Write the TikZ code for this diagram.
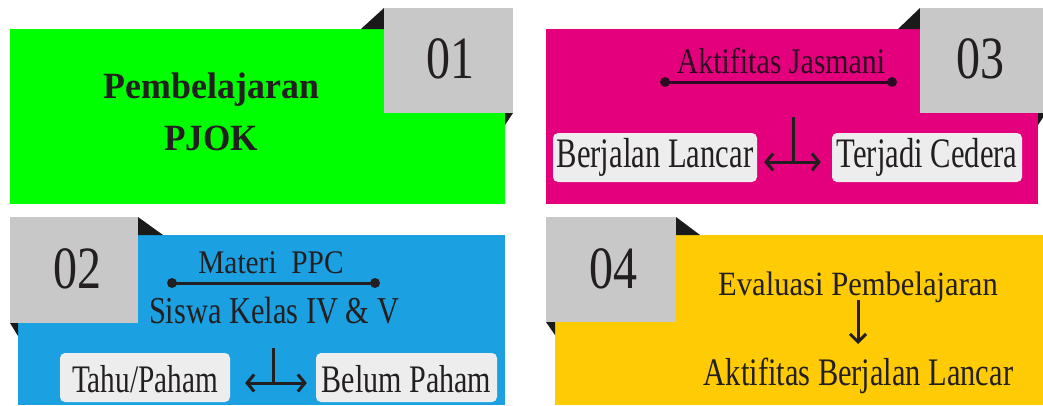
\documentclass[tikz,border=0pt]{standalone}
\usepackage{fontspec}
\setmainfont{Liberation Serif}
\usetikzlibrary{arrows.meta}
\definecolor{pgreen}{HTML}{00FF00}
\definecolor{pmag}{HTML}{E4007C}
\definecolor{pblue}{HTML}{1BA1E2}
\definecolor{pyel}{HTML}{FFCB05}
\definecolor{pgray}{HTML}{C8C8C8}
\definecolor{pbox}{HTML}{EDEDED}
\definecolor{ink}{HTML}{231F20}
\definecolor{fold}{HTML}{1A1A1A}
\definecolor{maginkc}{HTML}{2E0A22}
\newcommand\ftx[3]{\scalebox{#2}[1]{\fontsize{#1}{#1}\selectfont #3}}
\tikzset{
  txt/.style={inner sep=0pt, anchor=base, text=ink},
  pill/.style={fill=pbox, rounded corners=5pt, inner sep=0pt, text=ink},
  foldtri/.style={fill=fold},
  numbox/.style={fill=pgray},
  dotline/.style={line width=3pt, draw=ink},
  stem/.style={line width=3pt, draw=ink},
  arr/.style={line width=3pt, draw=ink, -{Straight Barb[length=8pt,width=16pt]}},
  darr/.style={line width=3pt, draw=ink, {Straight Barb[length=7pt,width=17pt]}-{Straight Barb[length=7pt,width=17pt]}}
}
\begin{document}
\begin{tikzpicture}[x=1pt,y=-1pt]
\useasboundingbox (0,0) rectangle (1043,405);
\fill[white] (0,0) rectangle (1043,405);

% ---------- panel 01 (green) ----------
\fill[pgreen] (10,29) rectangle (505,204);
\fill[foldtri] (361,29) -- (384,29) -- (384,8) -- cycle;
\fill[foldtri] (505,113) -- (513,113) -- (505,125) -- cycle;
\fill[numbox] (384,8) rectangle (513,113);
\node[txt] (p1a) at (211.5,98) {\ftx{37}{0.97}{\bfseries Pembelajaran}};
\node[txt] (p1b) at (211,150) {\ftx{37}{0.95}{\bfseries PJOK}};
\node[txt] (n01) at (450,78) {\ftx{60}{0.8}{01}};

% ---------- panel 03 (magenta) ----------
\fill[pmag] (546,29) rectangle (1038,204);
\fill[foldtri] (898,29) -- (920,29) -- (920,8) -- cycle;
\fill[foldtri] (1038,113) -- (1046,113) -- (1038,125) -- cycle;
\fill[numbox] (920,8) rectangle (1043,113);
\node[txt] (n03) at (980,78) {\ftx{60}{0.8}{03}};
\node[txt, text=maginkc] (aj) at (781,73) {\ftx{36}{0.83}{Aktifitas Jasmani}};
\coordinate (l3a) at (665,82);
\coordinate (l3b) at (892,82);
\draw[dotline, draw=maginkc] (l3a) -- (l3b);
\fill[maginkc] (l3a) circle (5);
\fill[maginkc] (l3b) circle (5);
\node[pill, minimum width=204pt, minimum height=49pt, text height=28pt, text depth=9pt] (bl) at (655,157.5) {\ftx{42}{0.73}{Berjalan Lancar}};
\node[pill, minimum width=190pt, minimum height=49pt, text height=28pt, text depth=9pt] (tc) at (927,157.5) {\ftx{42}{0.73}{Terjadi Cedera}};
\coordinate (t3) at (793,117);
\coordinate (j3) at (793,162);
\draw[stem] (t3) -- (j3);
\draw[darr] ([xshift=7pt]bl.east |- j3) -- ([xshift=-11pt]tc.west |- j3);

% ---------- panel 02 (blue) ----------
\fill[pblue] (18,235) rectangle (505,405);
\fill[foldtri] (138,217) -- (138,235) -- (163,235) -- cycle;
\fill[foldtri] (10,323) -- (18,323) -- (18,336) -- cycle;
\fill[numbox] (10,217) rectangle (138,323);
\node[txt] (n02) at (77,288) {\ftx{60}{0.8}{02}};
\node[txt] (mp) at (271,273) {\ftx{33}{0.89}{Materi\ \ PPC}};
\coordinate (l2a) at (172,283);
\coordinate (l2b) at (375,283);
\draw[dotline] (l2a) -- (l2b);
\fill[ink] (l2a) circle (5);
\fill[ink] (l2b) circle (5);
\node[txt] (sk) at (274,323) {\ftx{38}{0.80}{Siswa Kelas IV \& V}};
\node[pill, minimum width=170pt, minimum height=49pt, text height=34pt, text depth=5pt] (th) at (145,377.5) {\ftx{39}{0.75}{Tahu/Paham}};
\node[pill, minimum width=181pt, minimum height=49pt, text height=34pt, text depth=5pt] (bp) at (406.5,377.5) {\ftx{39}{0.77}{Belum Paham}};
\coordinate (t2) at (273,348);
\coordinate (j2) at (273,383);
\draw[stem] (t2) -- (j2);
\draw[darr] ([xshift=15pt]th.east |- j2) -- ([xshift=-9pt]bp.west |- j2);

% ---------- panel 04 (yellow) ----------
\fill[pyel] (555,235) rectangle (1043,405);
\fill[foldtri] (676,217) -- (676,235) -- (700,235) -- cycle;
\fill[foldtri] (546,322) -- (555,322) -- (555,335) -- cycle;
\fill[numbox] (546,217) rectangle (676,322);
\node[txt] (n04) at (613,288) {\ftx{60}{0.8}{04}};
\node[txt] (ev) at (858,295) {\ftx{34}{0.90}{Evaluasi Pembelajaran}};
\node[txt] (ab) at (858.5,385) {\ftx{39}{0.78}{Aktifitas Berjalan Lancar}};
\coordinate (a4s) at (858,300);
\coordinate (a4e) at (858,344);
\draw[arr] (a4s) -- (a4e);
\end{tikzpicture}
\end{document}
